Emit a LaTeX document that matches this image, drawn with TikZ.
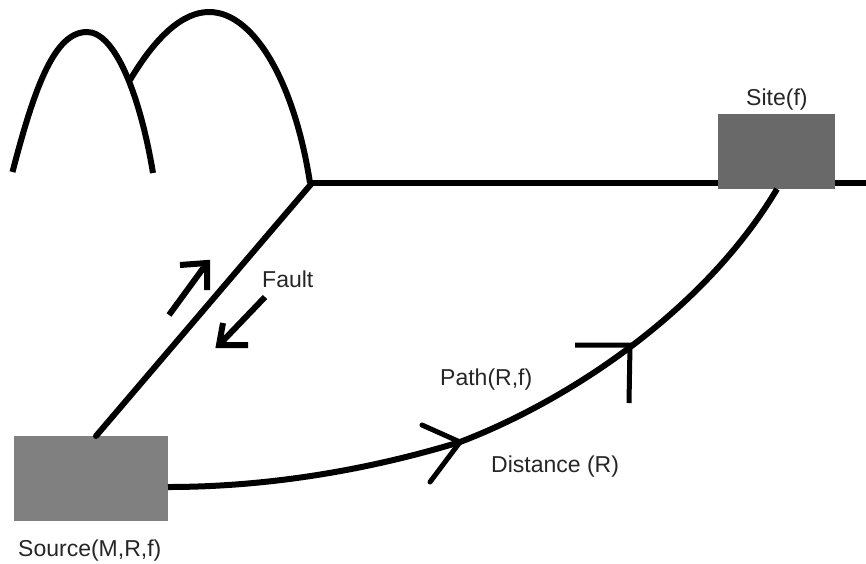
\documentclass[tikz,border=0pt]{standalone}
\usepackage{fontspec}
\setmainfont{Liberation Sans}
\begin{document}
\begin{tikzpicture}[x=1pt,y=-1pt,
  ink/.style={draw=black,line width=6pt},
  thin ink/.style={draw=black,line width=5pt},
  slip ink/.style={draw=black,line width=6pt},
  station/.style={draw=none,rectangle,minimum width=#1,inner sep=0pt},
  lbl/.style={text=black!85,font=\fontsize{23}{25}\selectfont,inner sep=0pt}]
\useasboundingbox (0,0) rectangle (866,563);

% fault trace and the free surface
\coordinate (junction) at (312,183);
\coordinate (surfaceEnd) at (866,183);
\draw[ink] (junction) -- (surfaceEnd);

% station boxes
\node[station=154pt,fill=black!50,minimum height=85pt] (source) at (91,478.5) {};
\node[station=117pt,fill=black!59,minimum height=75pt] (site) at (776.5,151.5) {};

% fault plane, from the source up to the surface
\coordinate (faultBase) at (96,436);
\draw[ink,line cap=round] (faultBase) -- (junction);

% hills
\draw[ink] (12.5,172) .. controls (35,85) and (55,32) .. (87,32)
           .. controls (115,32) and (140,95) .. (153,173);
\draw[ink] (130,80) .. controls (155,38) and (182,12) .. (209,12)
           .. controls (255,12) and (295,85) .. (310,183);

% wave path from the source to the site
\coordinate (pathStart) at (168,487);
\coordinate (pathMid) at (460,442);
\coordinate (pathEnd) at (777,189);
\draw[ink] (pathStart) .. controls (265,487) and (365,471) .. (pathMid)
           .. controls (570,400) and (705,310) .. (pathEnd);

% arrowheads along the path
\coordinate (headA) at (460,442);
\coordinate (headAu) at (422,425);
\coordinate (headAd) at (430,482);
\draw[thin ink,line cap=round,line join=miter] (headAu) -- (headA) -- (headAd);
\coordinate (headB) at (630,345);
\coordinate (headBl) at (575,345);
\coordinate (headBd) at (629,403);
\draw[thin ink,line join=miter] (headBl) -- (headB) -- (headBd);

% slip arrows beside the fault
\coordinate (slipUpTail) at (169,315);
\coordinate (slipUpTip) at (207,263);
\coordinate (slipUpL) at (180,265);
\coordinate (slipUpR) at (207,290);
\draw[slip ink] (slipUpTail) -- (slipUpTip);
\draw[slip ink,line join=miter] (slipUpL) -- (slipUpTip) -- (slipUpR);
\coordinate (slipDownTail) at (265,297);
\coordinate (slipDownTip) at (219,345);
\coordinate (slipDownL) at (223,323);
\coordinate (slipDownR) at (248,345);
\draw[slip ink] (slipDownTail) -- (slipDownTip);
\draw[slip ink,line join=miter] (slipDownL) -- (slipDownTip) -- (slipDownR);

% labels
\node[lbl,anchor=base west] (siteLabel) at (746,105) {Site(f)};
\node[lbl,anchor=base west] (faultLabel) at (262,287) {Fault};
\node[lbl,anchor=base west] (pathLabel) at (440,385) {Path(R,f)};
\node[lbl,anchor=base west] (distLabel) at (491,472) {Distance (R)};
\node[lbl,anchor=base west] (sourceLabel) at (18,556) {Source(M,R,f)};
\end{tikzpicture}
\end{document}
